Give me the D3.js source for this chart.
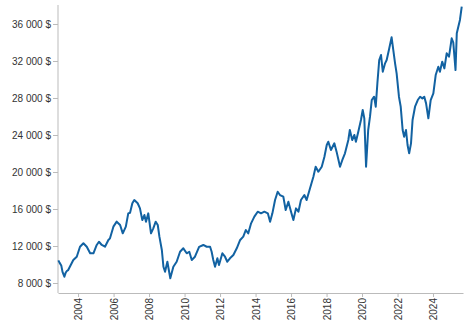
<!DOCTYPE html>
<html>
<head>
<meta charset="utf-8">
<script src="https://cdn.jsdelivr.net/npm/d3@7"></script>
<style>
  html, body { margin: 0; padding: 0; background: #fff; }
  svg { display: block; }
  .axis text { font-family: "Liberation Sans", Arial, sans-serif; font-size: 10px; fill: #333; }
  .axis path, .axis line { stroke: #bbb; }
</style>
</head>
<body>
<svg id="chart" width="470" height="325"></svg>
<script>
const dates = [
"2002-11-21","2002-12-15","2003-01-20","2003-02-15","2003-03-25","2003-04-20","2003-05-15","2003-06-12","2003-09-25","2003-12-05",
"2004-02-10","2004-04-20","2004-06-28","2004-09-06","2004-11-12","2005-01-19","2005-03-06","2005-05-03","2005-07-08","2005-09-16",
"2005-10-19","2005-12-28","2006-03-06","2006-05-15","2006-07-09","2006-09-10","2006-10-30","2006-12-06","2007-01-22","2007-03-03",
"2007-05-12","2007-06-28","2007-08-15","2007-09-27","2007-10-30","2007-12-16","2008-02-10","2008-03-28","2008-05-17","2008-06-28",
"2008-08-01","2008-09-20","2008-10-23","2008-11-25","2009-01-12","2009-02-17","2009-03-13","2009-05-15","2009-07-22","2009-09-30",
"2009-12-06","2010-02-14","2010-04-08","2010-05-29","2010-08-03","2010-10-27","2011-01-22","2011-04-01","2011-06-10","2011-07-12",
"2011-08-15","2011-09-20","2011-11-07","2011-12-10","2012-02-18","2012-04-12","2012-05-29","2012-07-23","2012-10-01","2012-12-10",
"2013-02-18","2013-04-23","2013-06-14","2013-08-04","2013-10-01","2013-12-07","2014-02-14","2014-04-23","2014-07-01","2014-09-10",
"2014-10-27","2014-12-13","2015-02-06","2015-04-01","2015-05-18","2015-07-26","2015-09-13","2015-11-07","2016-01-01","2016-02-18",
"2016-04-12","2016-06-01","2016-07-23","2016-10-01","2016-11-17","2017-01-26","2017-04-05","2017-05-22","2017-07-16","2017-09-24",
"2017-11-18","2018-01-05","2018-02-06","2018-04-01","2018-06-10","2018-07-26","2018-10-05","2018-11-22","2019-01-15","2019-03-25",
"2019-04-25","2019-06-13","2019-07-27","2019-08-28","2019-10-16","2019-12-10","2020-01-15","2020-02-17","2020-03-24","2020-05-07",
"2020-06-13","2020-07-19","2020-09-06","2020-10-09","2020-11-12","2020-12-20","2021-01-26","2021-03-03","2021-04-19","2021-05-22",
"2021-07-07","2021-09-01","2021-10-05","2021-11-11","2021-12-13","2022-01-30","2022-03-07","2022-04-16","2022-05-17","2022-06-24",
"2022-07-26","2022-08-28","2022-10-05","2022-11-06","2022-12-27","2023-02-21","2023-04-10","2023-05-26","2023-07-05","2023-08-11",
"2023-09-27","2023-11-14","2024-01-08","2024-02-25","2024-04-19","2024-05-22","2024-07-08","2024-08-22","2024-10-08","2024-11-25",
"2025-01-19","2025-02-21","2025-04-08","2025-05-04","2025-06-06","2025-07-08","2025-08-14"
];
const values = [
10450,10200,9900,9200,8680,9100,9300,9400,10490,10840,
11920,12290,11920,11210,11210,12110,12460,12110,11920,12650,
12830,14090,14630,14270,13370,14090,15530,15600,16620,16970,
16620,16070,14810,15350,14630,15530,13370,13910,14630,14270,
13010,11570,9760,9220,10300,9220,8510,9760,10300,11380,
11750,11210,11380,10490,10840,11900,12110,11920,11920,11380,
10490,9760,10670,9940,11210,10840,10300,10670,11030,11750,
12650,13010,13730,13370,14450,15170,15710,15530,15710,15530,
14630,15530,16970,17870,17510,17330,15890,16790,15710,14810,
16070,15710,16970,17510,16970,18240,19490,20570,20030,20570,
21650,22920,23270,22380,23100,22200,20570,21300,22020,23460,
24540,23460,24000,23280,24360,25620,26700,25800,20570,24540,
25980,27780,28140,27060,29590,32110,32650,30840,31750,32110,
33190,34560,33190,31750,30670,28140,27060,24540,23820,24540,
22920,22020,23100,25620,27060,27780,28140,27960,28140,27420,
25800,27780,28500,30480,31380,30840,31930,31200,32830,32470,
34450,34000,31020,35000,35720,36440,37870
];
const yTicks = [8000, 12000, 16000, 20000, 24000, 28000, 32000, 36000];
const xTickYears = [2004, 2006, 2008, 2010, 2012, 2014, 2016, 2018, 2020, 2022, 2024];

const parse = d3.timeParse("%Y-%m-%d");
const data = dates.map((d, i) => ({ date: parse(d), value: values[i] }));

const svg = d3.select("#chart");
const mLeft = 58, mRight = 463, mTop = 5, mBottom = 293;

const x = d3.scaleTime()
  .domain([new Date(2002, 10, 14), new Date(2025, 8, 9)])
  .range([mLeft, mRight]);
const y = d3.scaleLinear()
  .domain([6919, 38054])
  .range([mBottom, mTop]);

const fmt = v => d3.format(",")(v).replace(/,/g, " ") + " $";

const yAxis = svg.append("g")
  .attr("class", "axis")
  .attr("transform", `translate(${mLeft},0)`)
  .call(d3.axisLeft(y).tickValues(yTicks).tickFormat(fmt).tickSize(5).tickPadding(2).tickSizeOuter(0));
yAxis.select(".domain").attr("d", `M0,${mTop}V${mBottom}`);

const xAxis = svg.append("g")
  .attr("class", "axis")
  .attr("transform", `translate(0,${mBottom})`)
  .call(d3.axisBottom(x)
    .tickValues(xTickYears.map(yr => new Date(yr, 0, 1)))
    .tickFormat(d3.timeFormat("%Y"))
    .tickSize(4).tickSizeOuter(0));
xAxis.selectAll("text")
  .attr("transform", "rotate(-90)")
  .attr("text-anchor", "end")
  .attr("x", -5)
  .attr("y", 0)
  .attr("dy", "0.35em");

const line = d3.line()
  .x(d => x(d.date))
  .y(d => y(d.value));

svg.append("path")
  .datum(data)
  .attr("fill", "none")
  .attr("stroke", "#1262a2")
  .attr("stroke-width", 2)
  .attr("stroke-linejoin", "round")
  .attr("d", line);
</script>
</body>
</html>
